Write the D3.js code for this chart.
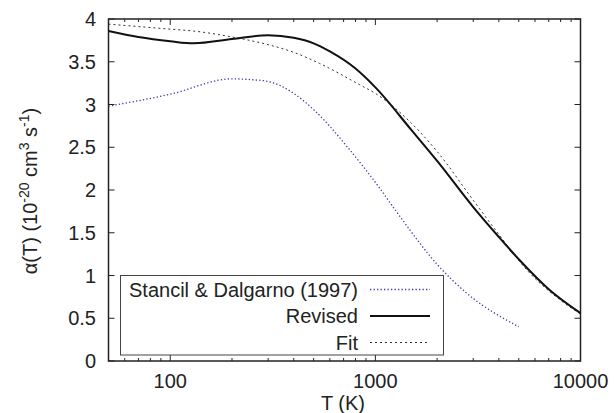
<!DOCTYPE html>
<html lang="en">
	<head>
		<meta charset="utf-8">
		<title>alpha(T)</title>
		<style type="text/css">
			body { margin: 0; background: #fff; }
			svg text { font-family: "Liberation Sans", Arial, sans-serif; fill: #222; }
		</style>
		<script src="https://cdn.jsdelivr.net/npm/d3@7"></script>
	</head>
	<body>
		<div id="svg_container"></div>
		<script type="text/javascript">
			// data
			var sdT     = [50, 100, 200, 250, 300, 400, 500, 750, 1000, 1300, 2000, 2800, 5000];
			var sdAlpha = [2.98, 3.12, 3.30, 3.29, 3.27, 3.13, 2.94, 2.47, 2.09, 1.71, 1.13, 0.79, 0.40];

			var revT     = [50, 70, 100, 130, 200, 300, 400, 500, 600, 800, 1000, 1500, 2000, 3000, 4000, 5000, 7000, 10000];
			var revAlpha = [3.86, 3.79, 3.74, 3.715, 3.765, 3.81, 3.78, 3.715, 3.62, 3.42, 3.20, 2.70, 2.34, 1.80, 1.45, 1.19, 0.84, 0.56];

			var fitT     = [50, 90, 140, 200, 300, 400, 535, 840, 1000, 1500, 2000, 3000, 4000, 5500, 8000, 10000];
			var fitAlpha = [3.94, 3.89, 3.85, 3.79, 3.70, 3.61, 3.48, 3.23, 3.13, 2.78, 2.45, 1.88, 1.48, 1.06, 0.71, 0.55];

			var xMajor = [100, 1000, 10000];
			var xMinor = [50, 60, 70, 80, 90, 200, 300, 400, 500, 600, 700, 800, 900,
			              2000, 3000, 4000, 5000, 6000, 7000, 8000, 9000];
			var yTicks = [0, 0.5, 1, 1.5, 2, 2.5, 3, 3.5, 4];

			var legendNames = ["Stancil & Dalgarno (1997)", "Revised", "Fit"];

			var svg = d3.select("#svg_container").append("svg")
				.attr("width", 614).attr("height", 413);

			// plot box (note: "top" is taken by window.top)
			var pl = 108.5, pr = 580.5, pt = 19, pb = 361;

			var x = d3.scaleLog().domain([50, 10000]).range([pl, pr]);
			var y = d3.scaleLinear().domain([0, 4]).range([pb, pt]);

			var ink = "#222";

			// ticks, mirrored, pointing inward
			yTicks.forEach(function(v) {
				svg.append("line").attr("x1", pl).attr("x2", pl + 6)
					.attr("y1", y(v)).attr("y2", y(v)).attr("stroke", ink).attr("stroke-width", 1);
				svg.append("line").attr("x1", pr).attr("x2", pr - 6)
					.attr("y1", y(v)).attr("y2", y(v)).attr("stroke", ink).attr("stroke-width", 1);
				svg.append("text").attr("x", 96).attr("y", y(v) + 7)
					.attr("text-anchor", "end").attr("font-size", 20).text(v);
			});
			xMajor.forEach(function(v) {
				svg.append("line").attr("x1", x(v)).attr("x2", x(v))
					.attr("y1", pb).attr("y2", pb - 6).attr("stroke", ink).attr("stroke-width", 1);
				svg.append("line").attr("x1", x(v)).attr("x2", x(v))
					.attr("y1", pt).attr("y2", pt + 6).attr("stroke", ink).attr("stroke-width", 1);
				svg.append("text").attr("x", x(v)).attr("y", 388)
					.attr("text-anchor", "middle").attr("font-size", 20).text(v);
			});
			xMinor.forEach(function(v) {
				svg.append("line").attr("x1", x(v)).attr("x2", x(v))
					.attr("y1", pb).attr("y2", pb - 3).attr("stroke", ink).attr("stroke-width", 1);
				svg.append("line").attr("x1", x(v)).attr("x2", x(v))
					.attr("y1", pt).attr("y2", pt + 3).attr("stroke", ink).attr("stroke-width", 1);
			});

			svg.append("rect").attr("x", pl).attr("y", pt)
				.attr("width", pr - pl).attr("height", pb - pt)
				.attr("fill", "none").attr("stroke", ink).attr("stroke-width", 1.5);

			// curves
			var line = d3.line()
				.x(function(d) { return x(d[0]); })
				.y(function(d) { return y(d[1]); })
				.curve(d3.curveMonotoneX);

			var sdData = d3.zip(sdT, sdAlpha);
			var revData = d3.zip(revT, revAlpha);
			var fitData = d3.zip(fitT, fitAlpha);

			svg.append("path").attr("d", line(sdData))
				.attr("fill", "none").attr("stroke", "#3b3bb0").attr("stroke-width", 1.3)
				.attr("stroke-dasharray", "1.3,2.2");
			svg.append("path").attr("d", line(fitData))
				.attr("fill", "none").attr("stroke", "#333").attr("stroke-width", 1)
				.attr("stroke-dasharray", "2,3");
			svg.append("path").attr("d", line(revData))
				.attr("fill", "none").attr("stroke", "#111").attr("stroke-width", 2);

			// legend
			svg.append("rect").attr("x", 120.5).attr("y", 275.5)
				.attr("width", 323).attr("height", 79.5)
				.attr("fill", "#fff").attr("stroke", "#444").attr("stroke-width", 1);

			var legendStyles = [
				{ stroke: "#3b3bb0", width: 1.3, dash: "1.3,2.2" },
				{ stroke: "#111", width: 2, dash: null },
				{ stroke: "#333", width: 1, dash: "2,3" }
			];
			var rowY = [289.5, 316, 342.5];
			legendNames.forEach(function(name, i) {
				svg.append("text").attr("x", 358).attr("y", rowY[i] + 7)
					.attr("text-anchor", "end").attr("font-size", 20).text(name);
				svg.append("line").attr("x1", 370).attr("x2", 430)
					.attr("y1", rowY[i]).attr("y2", rowY[i])
					.attr("stroke", legendStyles[i].stroke)
					.attr("stroke-width", legendStyles[i].width)
					.attr("stroke-dasharray", legendStyles[i].dash);
			});

			// axis labels
			svg.append("text").attr("x", 343).attr("y", 410)
				.attr("text-anchor", "middle").attr("font-size", 20).text("T (K)");

			var yl = svg.append("text").attr("transform", "translate(37,191) rotate(-90)")
				.attr("text-anchor", "middle").attr("font-size", 20);
			yl.append("tspan").text("\u03b1(T) (10");
			yl.append("tspan").attr("dy", -8).attr("font-size", 14).text("-20");
			yl.append("tspan").attr("dy", 8).text(" cm");
			yl.append("tspan").attr("dy", -8).attr("font-size", 14).text("3");
			yl.append("tspan").attr("dy", 8).text(" s");
			yl.append("tspan").attr("dy", -8).attr("font-size", 14).text("-1");
			yl.append("tspan").attr("dy", 8).text(")");
		</script>
	</body>
</html>
